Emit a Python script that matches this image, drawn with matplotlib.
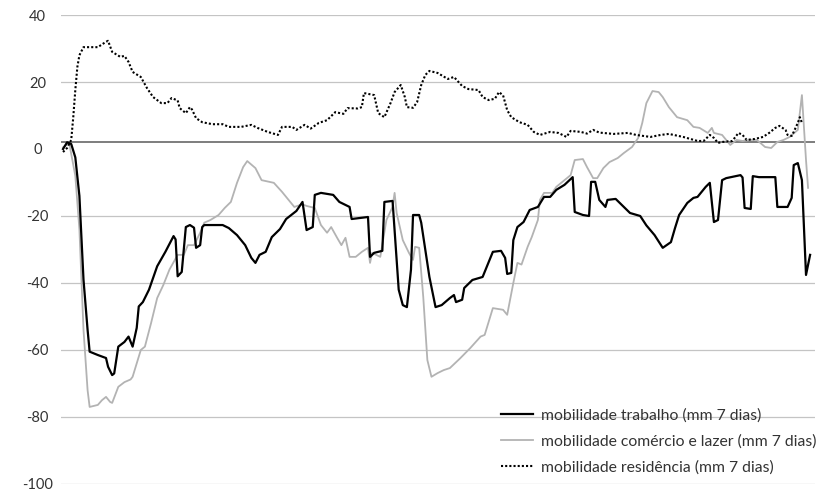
import matplotlib
matplotlib.use("Agg")
import matplotlib.pyplot as plt

# dias desde o inicio da serie e valores (% face a base)
dias_trabalho = [0, 2, 4, 6, 8, 10, 12, 13, 17, 21, 22, 24, 25, 27, 30, 32, 34, 36, 37, 39,
                 42, 44, 46, 50, 54, 55, 56, 58, 60, 62, 64, 65, 67, 68, 69, 78, 81, 85, 89, 92,
                 94, 96, 99, 102, 106, 109, 114, 117, 119, 122, 123, 126, 132, 135, 140, 141, 149, 150, 152, 156,
                 157, 161, 162, 164, 166, 168, 170, 171, 174, 175, 179, 182, 185, 189, 191, 192, 195, 196, 200, 205,
                 207, 210, 214, 216, 217, 219, 220, 222, 225, 228, 232, 235, 238, 241, 245, 249, 250, 254, 257, 258,
                 260, 262, 265, 266, 270, 273, 277, 282, 285, 289, 293, 297, 299, 301, 305, 308, 310, 314, 316, 318,
                 320, 322, 324, 331, 332, 333, 336, 337, 340, 348, 349, 354, 356, 357, 359, 361, 363, 365]
trabalho = [0, 2, 1.5, -2.5, -14, -39, -54, -60.5, -61.5, -62.4, -65, -67.5, -67, -59, -57.6, -56, -59, -53.4, -47, -45.7,
            -42, -38.5, -35, -30.7, -26, -27, -38, -36.7, -23.3, -22.7, -23.5, -29.5, -28.7, -23.3, -22.7, -22.7, -23.6, -25.7, -28.7, -32.5,
            -34, -31.6, -30.7, -26.3, -23.9, -20.9, -18.5, -15.8, -24.2, -23.3, -13.7, -13.1, -13.7, -15.8, -17.3, -20.9, -20.3, -32.2, -31, -30.4,
            -15.8, -15.5, -24.2, -42, -46.6, -47.2, -36, -19.7, -19.7, -22, -38.2, -47.2, -46.6, -44.5, -43.6, -45.7, -45, -41.5, -39.1, -38.2,
            -35.2, -30.7, -30.4, -32.5, -37.3, -37, -27.2, -23.3, -21.8, -18.2, -17.3, -14.3, -14.3, -12.2, -10.7, -8.4, -18.8, -19.7, -20, -9.8,
            -9.8, -15.2, -17.3, -15.2, -14.9, -16.7, -19.1, -20, -22.8, -25.7, -29.5, -27.8, -23.6, -19.7, -16.1, -14.6, -14.3, -11.3, -10.1, -21.8,
            -21.2, -9.3, -8.7, -7.8, -8.5, -17.6, -17.9, -8.1, -8.4, -8.4, -17.3, -17.3, -14.6, -4.8, -4.2, -9.3, -37.6, -31.6]

dias_comercio = [0, 3, 6, 8, 10, 12, 13, 17, 19, 21, 23, 24, 27, 30, 33, 34, 38, 40, 43, 46,
                 49, 52, 56, 59, 61, 64, 67, 69, 72, 76, 79, 82, 85, 88, 90, 94, 97, 103, 107, 111,
                 113, 117, 119, 123, 126, 129, 131, 134, 136, 138, 140, 143, 146, 149, 150, 151, 155, 158, 161, 162,
                 163, 166, 169, 171, 172, 174, 176, 178, 180, 183, 186, 189, 194, 199, 204, 206, 210, 215, 217, 220,
                 222, 224, 227, 229, 232, 233, 235, 239, 241, 245, 248, 250, 254, 256, 259, 261, 264, 267, 271, 274,
                 278, 281, 283, 285, 288, 291, 293, 296, 300, 305, 308, 311, 315, 317, 318, 322, 326, 329, 332, 336,
                 339, 343, 346, 349, 352, 355, 359, 361, 363, 364]
comercio = [0.5, 1.8, -8, -24, -54, -72, -77, -76.4, -75, -74, -75.5, -75.8, -71, -69.6, -68.8, -68, -60, -59, -52, -44.5,
            -40.6, -36, -31.6, -31.6, -28.7, -28.7, -25, -22, -21.2, -19.7, -17.6, -15.8, -10.1, -5.4, -3.6, -5.7, -9.3, -10.1, -12.8, -15.8,
            -17.3, -16.5, -17, -17.6, -22.7, -25, -23.3, -26.6, -28.7, -26.5, -32.2, -32.2, -30.7, -29.5, -34, -31, -32.2, -21.2, -17.3, -13.1,
            -19.1, -27.2, -31, -33.1, -29.2, -29.5, -44.2, -63, -68, -66.9, -66, -65.4, -62.5, -59.4, -56, -55.5, -47.5, -48, -49.5, -40,
            -34, -34.5, -29.2, -26.3, -21.2, -15.2, -13.1, -13.1, -11.3, -9.3, -7.8, -3.3, -3, -5.4, -8.7, -8.7, -5.7, -3.9, -2.7, -1.2,
            0.6, 3.3, 7.8, 13.7, 17.3, 17, 15.5, 12.5, 9.5, 8.6, 6.6, 6.3, 4.8, 6.3, 4.8, 4.2, 1.2, 2.7, 2.4, 2.7,
            2.7, 0.6, 0.3, 2.1, 2.7, 3.6, 5.7, 16.1, -3.3, -11.6]

dias_residencia = [0, 2, 4, 5, 6, 7, 8, 10, 17, 21, 22, 24, 28, 30, 32, 34, 38, 41, 44, 48,
                   51, 53, 56, 57, 60, 62, 63, 65, 68, 73, 78, 81, 87, 92, 95, 100, 105, 107, 112, 114,
                   118, 121, 125, 129, 133, 137, 139, 144, 146, 147, 152, 154, 157, 160, 162, 165, 167, 168, 171, 173,
                   175, 177, 179, 183, 188, 191, 195, 198, 203, 205, 208, 211, 213, 215, 217, 219, 223, 227, 230, 233,
                   238, 242, 246, 248, 253, 256, 259, 262, 269, 276, 280, 287, 292, 296, 303, 310, 313, 316, 318, 320,
                   322, 327, 330, 332, 334, 338, 342, 345, 348, 350, 353, 354, 356, 357, 359, 360, 361]
residencia = [-0.9, 0.3, 2.7, 9.5, 17.6, 24.5, 28, 30.4, 30.4, 32, 32.3, 29, 27.5, 27.8, 26, 23, 21.5, 18.2, 15.5, 13.7,
              13.7, 15.2, 14.5, 12.2, 10.7, 12.5, 11.8, 9.2, 8, 7.4, 7.4, 6.6, 6.6, 7.2, 6.3, 5.1, 4.2, 6.6, 6.6, 5.7,
              7.2, 6.1, 7.8, 8.6, 11, 10.5, 12.2, 12.1, 12.5, 16.7, 16.1, 10.7, 9.5, 13.7, 17, 19.1, 15.5, 12.5, 12.3, 14,
              19.1, 22.1, 23.3, 22.7, 20.9, 21.5, 18.8, 17.9, 17.6, 15.5, 14.6, 15, 17, 16, 11.6, 9.5, 8, 7.2, 5.1, 4.2,
              5.1, 4.8, 3.6, 5.4, 5.1, 4.6, 5.7, 4.9, 4.5, 4.8, 4.2, 3.6, 4.2, 4.5, 3.6, 2.4, 2.4, 4.2, 3.3, 1.8,
              2.1, 2.4, 4.8, 4.2, 2.7, 3, 3.6, 4.8, 6.3, 6.9, 5.7, 4.2, 3.9, 5.1, 7.8, 9.5, 7.8]

rotulos = ["mobilidade trabalho (mm 7 dias)",
           "mobilidade comércio e lazer (mm 7 dias)",
           "mobilidade residência (mm 7 dias)"]
yticks = [-100, -80, -60, -40, -20, 0, 20, 40]
linha_base = 2.1

plt.rcParams['font.family'] = ['Lato', 'DejaVu Sans']

fig = plt.figure(figsize=(8.23, 4.92), dpi=100)
ax = fig.add_axes([0.0741, 0.0163, 0.9162, 0.9532])

for y in yticks:
    if y != 0:
        ax.axhline(y, color='#c4c4c4', lw=0.9, zorder=0)
ax.axhline(linha_base, color='#5a5a5a', lw=1.1, zorder=1)

ax.plot(dias_trabalho, trabalho, color='black', lw=1.6, label=rotulos[0], zorder=4)
ax.plot(dias_comercio, comercio, color='#b3b3b3', lw=1.3, label=rotulos[1], zorder=3)
ax.plot(dias_residencia, residencia, color='black', lw=1.5, ls=(0, (1, 1)), label=rotulos[2], zorder=5)

ax.set_xlim(-1, 367.4)
ax.set_ylim(-100, 40)
ax.set_xticks([])
ax.set_yticks(yticks)
ax.set_yticklabels([str(t) for t in yticks], ha='center')
ax.tick_params(axis='y', length=0, pad=17, labelsize=10.5, labelcolor='#333333')
for s in ax.spines.values():
    s.set_visible(False)

leg = ax.legend(loc='lower left', bbox_to_anchor=(0.592, 0.006), bbox_transform=fig.transFigure,
                frameon=False, fontsize=11.3, handlelength=2.0, handletextpad=0.5, labelspacing=0.75)
for t in leg.get_texts():
    t.set_color('#333333')

fig.savefig('out.png', dpi=100)
